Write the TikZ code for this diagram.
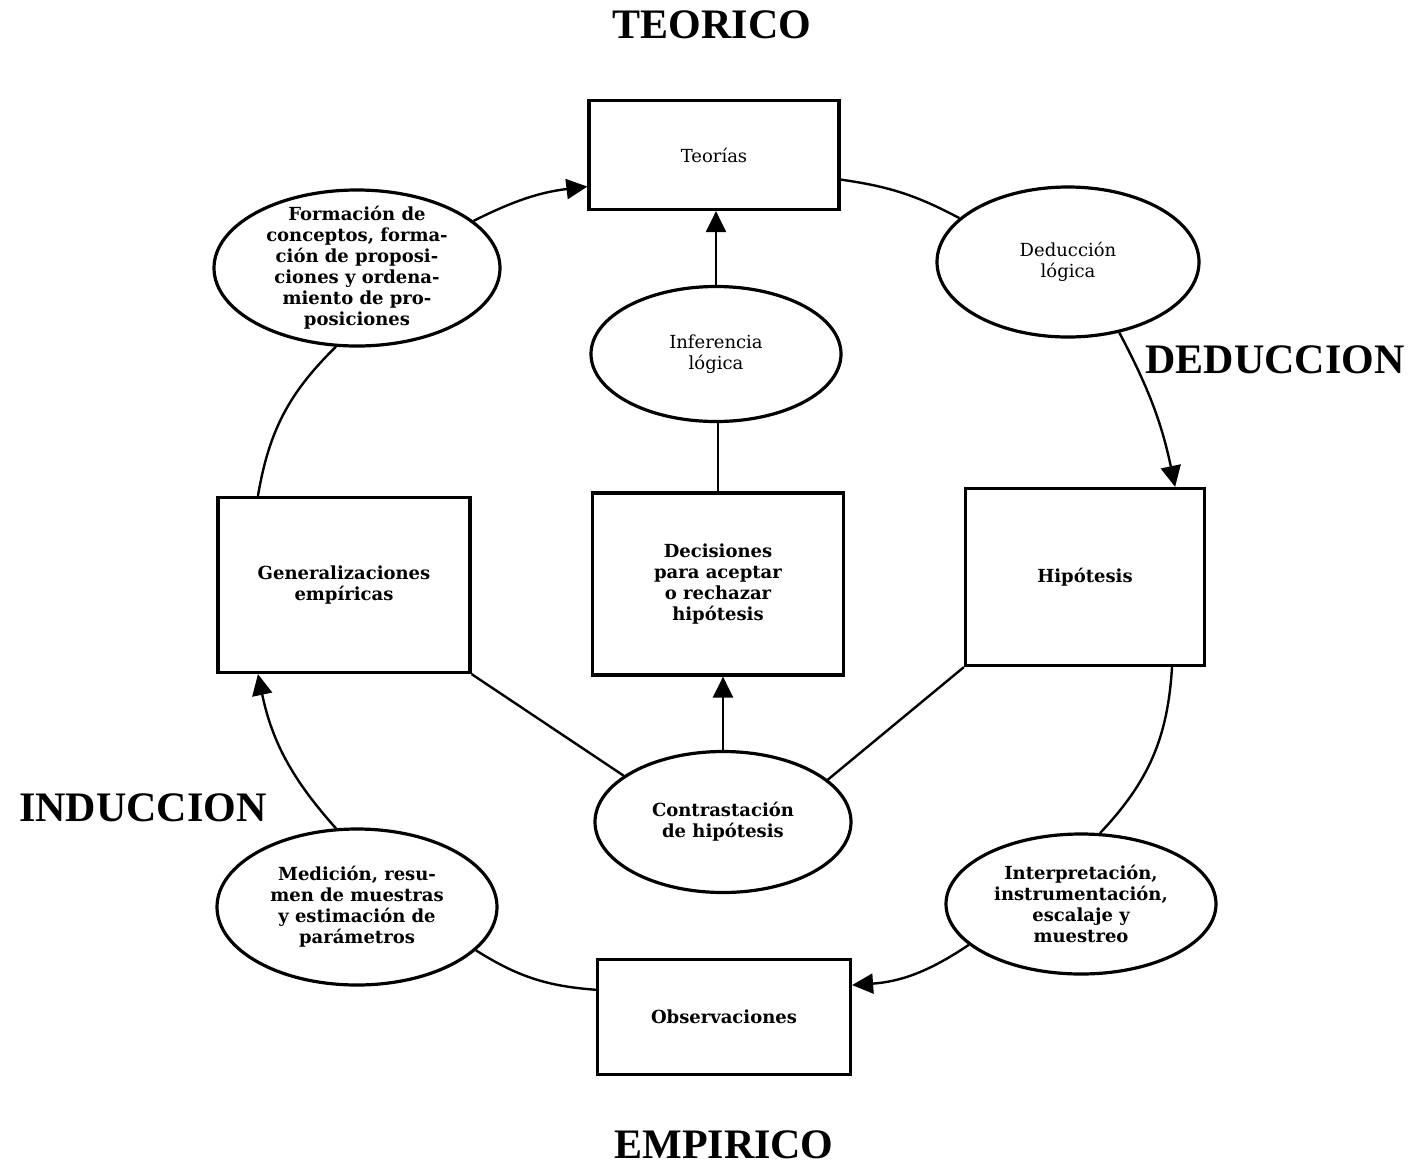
\documentclass[tikz,border=0pt]{standalone}
\usepackage{fontspec}
\setmainfont{DejaVu Serif}
\newfontfamily\bigf{Liberation Serif}
\usetikzlibrary{shapes.geometric,arrows.meta}
\begin{document}
\begin{tikzpicture}[x=1pt,y=-1pt,
  every node/.style={align=center,font=\fontsize{18}{21}\selectfont\bfseries},
  lightf/.style={font=\fontsize{18}{21}\selectfont},
  boxn/.style={draw,line width=3.2pt,rectangle,inner sep=0pt},
  elln/.style={draw,line width=3.2pt,ellipse,inner sep=0pt},
  conn/.style={line width=2.4pt},
  arr/.style={line width=2.4pt,-{Triangle[length=21pt,width=20pt]}},
  biglab/.style={inner sep=0pt,font=\bigf\fontsize{42}{46}\selectfont\bfseries}]
\useasboundingbox (0,0) rectangle (1414,1168);

\node[biglab] (lteo) at (712,25) {TEORICO};
\node[biglab] (lded) at (1275,360) {DEDUCCION};
\node[biglab] (lind) at (143,808) {INDUCCION};
\node[biglab] (lemp) at (724,1145) {EMPIRICO};

\node[boxn,minimum width=250,minimum height=109,lightf] (teo) at (714,155) {Teorías};
\node[elln,minimum width=286,minimum height=156,inner ysep=-14pt,inner xsep=-4pt] (form) at (357,268) {Formación de\\conceptos, forma-\\ción de proposi-\\ciones y ordena-\\miento de pro-\\posiciones};
\node[elln,minimum width=262,minimum height=150,lightf] (ded) at (1068,262) {Deducción\\lógica};
\node[elln,minimum width=250,minimum height=135,lightf] (inf) at (716,354) {Inferencia\\lógica};
\node[boxn,minimum width=252,minimum height=175] (gen) at (344,585) {Generalizaciones\\empíricas};
\node[boxn,minimum width=251,minimum height=182] (dec) at (718,584) {Decisiones\\para aceptar\\o rechazar\\hipótesis};
\node[boxn,minimum width=239,minimum height=177] (hip) at (1085,577) {Hipótesis};
\node[elln,minimum width=256,minimum height=141] (con) at (723,822) {Contrastación\\de hipótesis};
\node[elln,minimum width=280,minimum height=156] (med) at (357,907) {Medición, resu-\\men de muestras\\y estimación de\\parámetros};
\node[elln,minimum width=270,minimum height=140] (int) at (1081,904) {Interpretación,\\instrumentación,\\escalaje y\\muestreo};
\node[boxn,minimum width=253,minimum height=115] (obs) at (724,1017) {Observaciones};

% outer circle
\draw[arr] (form.22) to[bend left=10] (teo.194);
\draw[conn] (teo.-11) to[bend left=10] (ded.158);
\draw[arr] (ded.-54) to[bend left=8] (hip.45);
\draw[conn] (hip.-46) to[bend left=20] (int.75);
\draw[arr] (int.200) to[bend left=15] (obs.14);
\draw[conn] (obs.168) to[bend left=14] (med.-20);
\draw[arr] (med.105) to[bend left=15] (gen.-134);
\draw[conn] (gen.134) to[bend left=18] (form.-105);

% centre column
\draw[arr] (inf.north) -- (inf.north |- teo.south);
\draw[conn] (dec.north) -- (dec.north |- inf.south);
\draw[arr] (con.north) -- (con.north |- dec.south);
\draw[conn] (gen.south east) -- (con.155);
\draw[conn] (hip.south west) -- (con.22);
\end{tikzpicture}
\end{document}
